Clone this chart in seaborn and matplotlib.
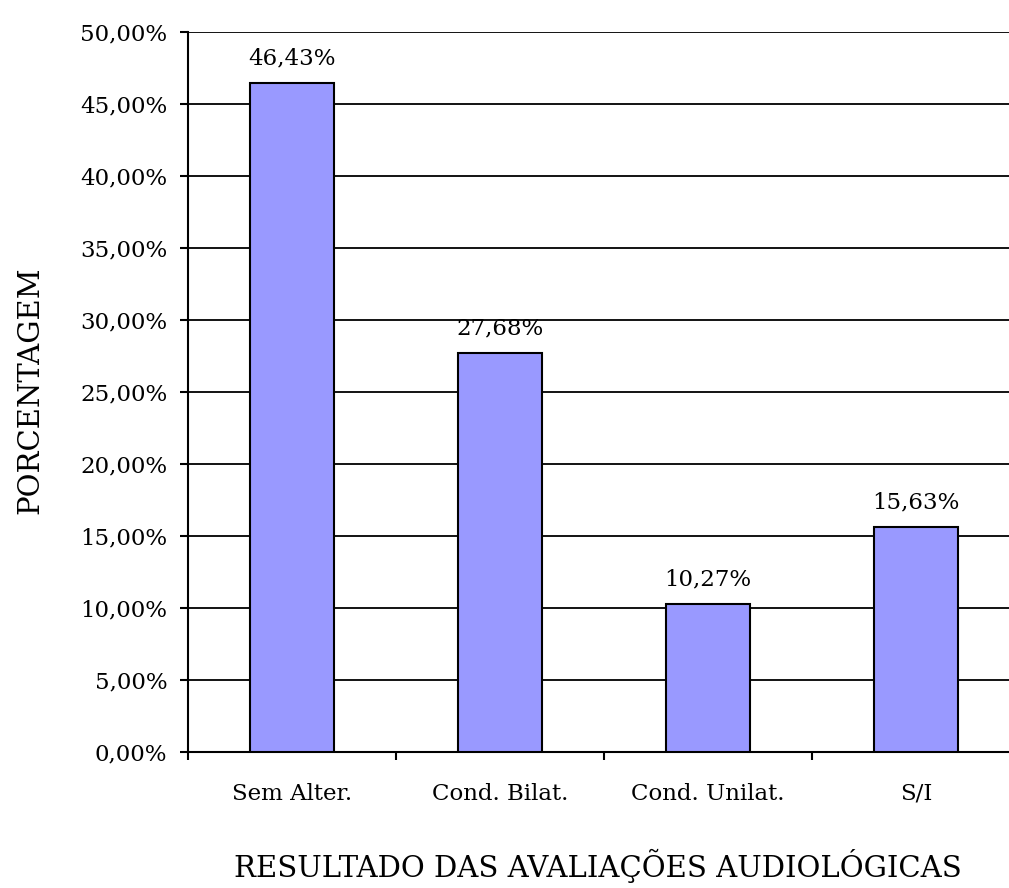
import matplotlib
matplotlib.use("Agg")
import matplotlib.pyplot as plt
import seaborn as sns
import pandas as pd
import numpy as np

categories = ["Sem Alter.", "Cond. Bilat.", "Cond. Unilat.", "S/I"]
values = [46.43, 27.68, 10.27, 15.63]
value_labels = ["46,43%", "27,68%", "10,27%", "15,63%"]
yticks = [0, 5, 10, 15, 20, 25, 30, 35, 40, 45, 50]
ytick_labels = ["0,00%", "5,00%", "10,00%", "15,00%", "20,00%", "25,00%",
                "30,00%", "35,00%", "40,00%", "45,00%", "50,00%"]
xlabel = "RESULTADO DAS AVALIAÇÕES AUDIOLÓGICAS"
ylabel = "PORCENTAGEM"

sns.set_theme(style="white")
plt.rcParams['font.family'] = ['DejaVu Serif']

df = pd.DataFrame({"cat": categories, "val": values})

fig = plt.figure(figsize=(10.09, 8.88), dpi=100)
ax = fig.add_axes([188/1009, 1-752/888, 832/1009, 720/888])

sns.barplot(data=df, x="cat", y="val", color="#9999FF", width=0.4,
            edgecolor="black", linewidth=1.5, saturation=1, ax=ax, zorder=3)

ax.set_xlim(-0.5, 3.5)
ax.set_ylim(0, 50)
ax.set_yticks(yticks)
ax.set_yticklabels(ytick_labels, fontsize=16.5)
ax.yaxis.grid(True, color="black", linewidth=1.3, zorder=0)
ax.xaxis.grid(False)
ax.set_axisbelow(True)

ax.set_xticks(range(len(categories)))
ax.set_xticklabels(categories, fontsize=16.5)
ax.set_xticks(np.arange(-0.5, 4.0, 1.0), minor=True)
ax.tick_params(axis="x", which="major", bottom=True, length=0, pad=22)
ax.tick_params(axis="x", which="minor", bottom=True, length=5.8, width=1.5, color="black", direction="out")
ax.tick_params(axis="y", which="major", left=True, length=5.8, width=1.5, color="black", direction="out", pad=9)
ax.tick_params(axis="both", labelcolor="black")

for s in ["top", "right"]:
    ax.spines[s].set_visible(False)
for s in ["left", "bottom"]:
    ax.spines[s].set_visible(True)
    ax.spines[s].set_color("black")
    ax.spines[s].set_linewidth(1.5)

for i, (v, lab) in enumerate(zip(values, value_labels)):
    ax.annotate(lab, xy=(i, v), xytext=(0, 13.5), textcoords="offset points",
                ha="center", va="baseline", fontsize=16.5, color="black")

ax.set_xlabel("")
ax.set_ylabel("")
fig.text(598/1009, 1-866/888, xlabel, ha="center", va="center", fontsize=21, color="black")
fig.text(30/1009, 1-390/888, ylabel, ha="center", va="center", rotation=90, fontsize=21, color="black")

fig.savefig("out.png", dpi=100)
